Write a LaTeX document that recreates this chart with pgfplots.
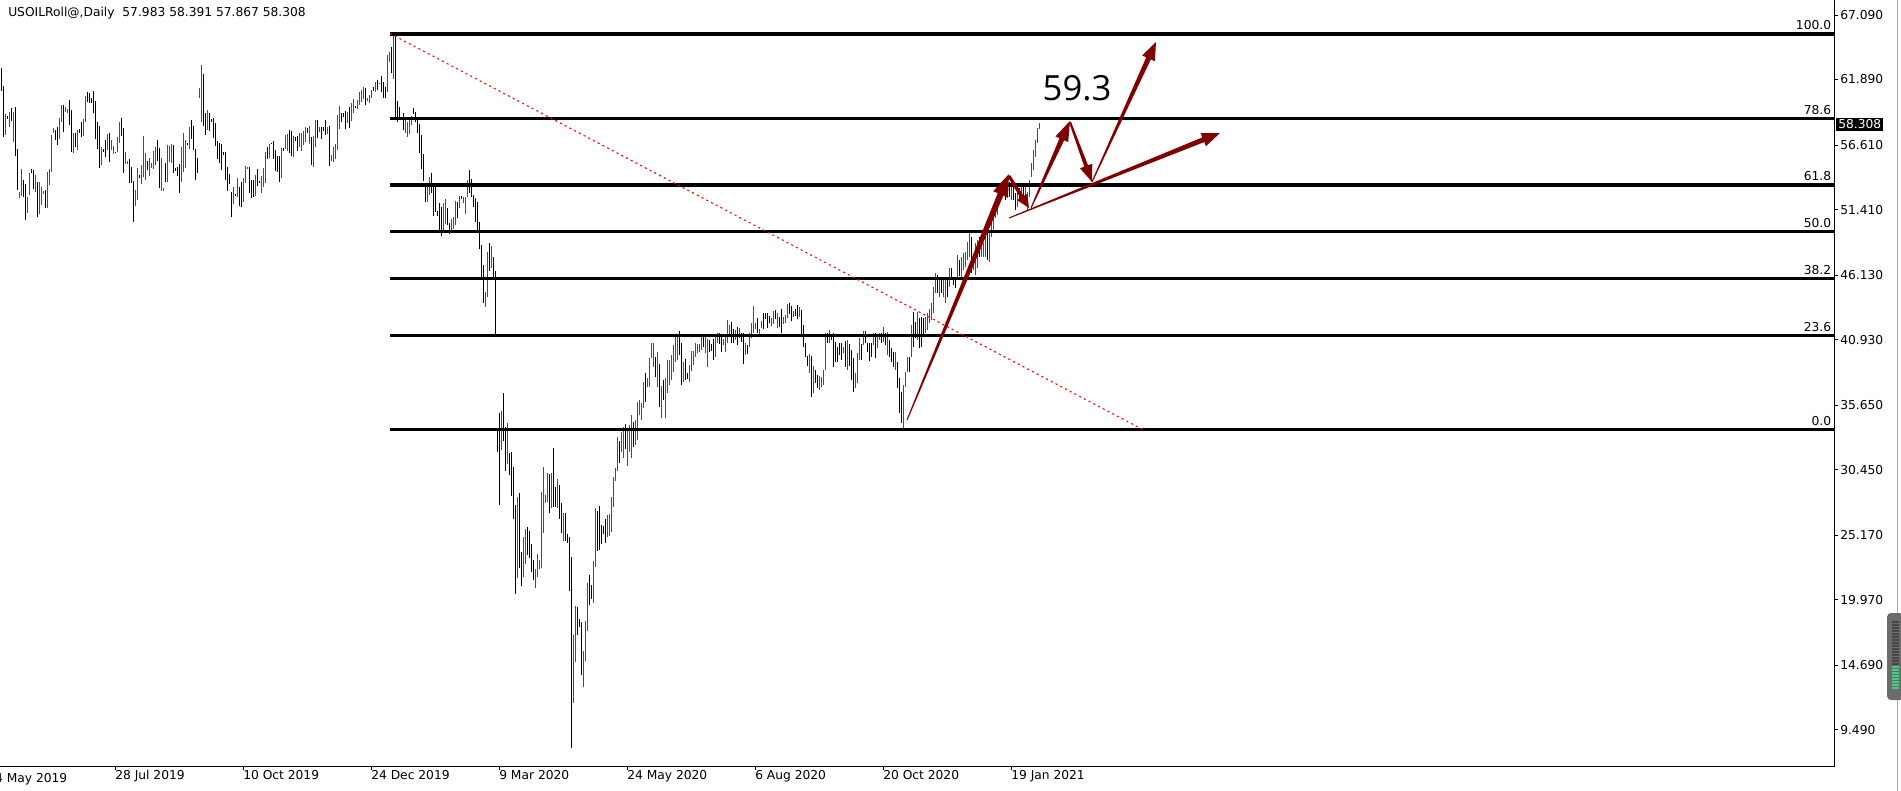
\documentclass[border=0pt]{standalone}
\usepackage{pgfplots}
\pgfplotsset{compat=1.18}
\usepackage{pgfplotstable}
\usepackage{fontspec}
\setmainfont{DejaVu Sans}
\newfontfamily\opensans{Open Sans}
\usetikzlibrary{calc}
\definecolor{arrowred}{HTML}{800000}
\definecolor{upred}{HTML}{FF0000}
\newcommand{\mtfont}{\fontsize{9.2pt}{11pt}\selectfont}

% bars: x = position on the time axis, l = low, h = high
\pgfplotstableread{
x l h
5.3 57.42 59.11
9.3 58.06 59.27
13.3 56.85 59.27
19.3 52.34 52.82
21.3 52.50 54.68
27.3 51.13 52.42
29.3 52.58 54.36
35.3 52.82 54.20
39.3 51.05 53.63
41.3 51.78 53.23
43.3 52.66 52.91
47.3 51.54 54.44
49.3 53.39 54.68
51.3 54.44 57.42
53.3 57.58 57.98
59.3 57.10 58.79
61.3 58.47 59.84
65.3 59.27 59.68
67.3 59.19 59.51
73.3 55.97 57.58
77.3 56.21 57.82
83.3 57.34 58.71
85.3 58.47 60.56
101.3 55.00 56.45
107.3 56.21 57.50
111.3 56.21 57.02
113.3 55.89 56.53
117.3 56.05 57.26
119.3 56.77 58.47
125.3 55.08 56.05
127.3 55.08 55.32
135.3 51.70 52.99
137.3 52.18 54.76
141.3 53.47 55.00
143.3 54.03 57.34
145.3 53.79 55.97
149.3 54.11 55.57
151.3 54.76 55.16
153.3 54.68 56.13
155.3 55.00 56.45
161.3 52.91 55.57
163.3 52.91 53.15
167.3 53.63 56.61
169.3 55.24 56.53
171.3 55.16 56.69
181.3 53.63 56.45
183.3 54.44 57.58
185.3 54.76 57.02
189.3 56.29 58.06
199.3 60.40 61.21
201.3 58.47 63.06
207.3 57.82 59.43
233.3 51.86 53.23
237.3 52.42 53.95
243.3 52.02 53.95
245.3 53.55 54.92
247.3 54.68 54.84
255.3 52.50 54.20
261.3 52.74 54.11
263.3 53.23 54.76
265.3 53.55 56.05
269.3 55.57 56.69
281.3 53.95 56.37
285.3 56.29 57.42
287.3 56.13 57.50
293.3 55.65 57.34
299.3 56.45 57.58
301.3 56.13 57.58
303.3 56.61 57.74
305.3 56.85 58.06
309.3 56.69 58.14
313.3 54.84 57.34
315.3 56.45 58.63
319.3 57.66 58.06
327.3 57.50 58.06
331.3 55.32 55.81
333.3 55.24 56.45
335.3 55.48 56.69
337.3 56.21 59.03
339.3 57.90 59.76
347.3 58.39 59.27
351.3 58.55 60.00
353.3 59.19 60.32
357.3 59.51 60.24
359.3 59.84 60.88
361.3 60.08 61.05
363.3 60.32 61.29
367.3 60.16 60.40
369.3 60.00 60.64
371.3 60.40 61.05
375.3 60.88 61.69
379.3 61.53 61.61
387.3 60.88 63.87
389.3 63.30 64.11
393.3 61.93 65.64
401.3 58.63 58.87
405.3 57.58 58.63
407.3 57.26 58.47
409.3 57.50 58.87
411.3 58.23 58.95
427.3 52.02 53.55
429.3 52.58 54.03
443.3 49.60 51.94
445.3 50.25 52.26
451.3 49.52 50.65
453.3 49.84 50.81
455.3 50.17 52.10
459.3 51.54 52.50
463.3 51.94 52.42
465.3 51.05 52.42
467.3 52.42 53.79
485.3 43.56 44.76
487.3 44.36 47.99
491.3 46.70 48.47
501.3 32.03 35.17
507.3 30.90 34.21
517.3 21.71 28.24
523.3 21.79 25.02
525.3 22.84 25.66
535.3 20.91 22.44
537.3 21.79 23.65
539.3 22.44 23.16
541.3 22.52 28.64
543.3 25.34 30.66
545.3 27.76 28.40
547.3 27.84 30.18
551.3 27.36 30.18
557.3 27.36 29.69
563.3 24.70 26.95
573.3 11.64 17.12
575.3 14.94 19.46
583.3 12.93 15.83
585.3 15.02 18.25
587.3 17.44 21.31
593.3 19.70 23.08
595.3 22.60 27.36
607.3 25.02 26.79
609.3 25.10 26.87
611.3 25.42 28.24
613.3 27.44 29.85
615.3 29.53 30.58
617.3 30.34 33.08
621.3 31.87 33.50
623.3 31.38 33.91
627.3 30.74 33.64
629.3 31.87 34.05
631.3 31.38 34.85
635.3 32.43 34.45
637.3 32.84 35.92
639.3 34.85 36.06
641.3 34.45 35.79
643.3 35.42 37.53
647.3 37.13 37.81
649.3 37.13 39.42
651.3 39.42 40.63
653.3 38.74 40.63
657.3 37.13 39.95
661.3 34.58 37.19
665.3 34.58 37.81
667.3 36.60 39.28
669.3 37.27 39.28
671.3 37.67 39.69
673.3 38.34 40.49
675.3 39.15 41.30
677.3 39.28 41.22
683.3 37.53 39.15
689.3 37.53 38.88
691.3 38.42 40.03
693.3 38.88 40.03
695.3 39.55 40.68
697.3 39.82 40.57
699.3 39.95 40.57
701.3 40.09 41.16
705.3 39.82 41.11
707.3 38.70 40.95
715.3 39.55 41.16
717.3 40.63 41.48
723.3 40.49 40.95
725.3 39.95 41.30
727.3 40.63 42.51
729.3 41.16 42.11
735.3 40.90 41.70
739.3 41.03 41.89
745.3 39.69 40.68
749.3 40.31 41.44
751.3 41.03 42.24
753.3 41.44 43.64
755.3 41.76 42.29
759.3 41.30 41.76
761.3 41.84 42.45
771.3 42.02 42.64
773.3 42.19 43.26
777.3 41.84 43.05
783.3 42.19 42.77
785.3 42.29 42.91
787.3 42.64 43.80
793.3 42.77 43.26
799.3 42.77 43.58
809.3 38.21 39.77
813.3 36.60 38.80
819.3 36.87 38.00
821.3 37.13 37.89
823.3 37.27 38.48
825.3 38.48 41.44
829.3 40.63 41.70
843.3 39.82 40.36
847.3 38.48 40.90
855.3 37.00 38.21
857.3 37.41 39.87
859.3 39.28 41.03
863.3 40.49 41.65
873.3 40.49 41.48
877.3 40.23 41.30
879.3 40.90 41.44
883.3 40.76 41.97
887.3 39.69 41.57
895.3 38.48 39.95
903.3 33.71 37.27
905.3 37.11 38.32
907.3 38.28 39.55
911.3 39.53 42.10
917.3 40.90 43.15
925.3 41.46 42.75
927.3 41.70 43.07
929.3 42.27 43.39
931.3 42.51 43.88
933.3 43.07 45.17
935.3 44.68 46.30
939.3 44.36 45.89
943.3 44.36 45.89
945.3 43.88 45.73
949.3 45.17 46.70
957.3 45.73 47.75
961.3 45.97 47.59
963.3 46.54 47.91
965.3 46.78 47.99
967.3 47.34 48.79
969.3 47.59 49.52
973.3 46.54 47.59
975.3 46.14 48.71
977.3 46.70 48.96
981.3 47.59 48.39
983.3 47.59 48.71
985.3 47.59 49.36
989.3 47.18 49.76
991.3 49.20 50.57
993.3 49.76 50.97
995.3 50.73 51.62
997.3 50.97 52.18
999.3 52.18 53.15
1003.3 52.99 53.79
1007.3 52.34 53.95
1011.3 52.18 53.55
1017.3 51.62 53.23
1021.3 52.42 53.23
1025.3 51.94 53.23
1027.3 51.37 52.82
1029.3 52.42 53.79
1031.3 54.03 55.16
1033.3 54.60 56.21
1035.3 55.65 57.02
1037.3 56.77 57.98
1039.3 57.87 58.39
}\up

\pgfplotstableread{
x l h
1.3 60.97 62.82
3.3 57.26 61.37
7.3 58.71 58.95
11.3 58.55 59.60
15.3 55.73 59.68
17.3 52.99 56.29
23.3 52.42 53.79
25.3 50.57 53.47
31.3 54.36 54.68
33.3 53.07 54.60
37.3 50.81 53.63
45.3 51.54 52.99
55.3 57.02 57.82
57.3 56.61 58.06
63.3 57.66 59.84
69.3 58.23 60.24
71.3 56.05 59.43
75.3 56.45 57.58
79.3 57.58 57.90
81.3 57.26 58.47
87.3 60.08 60.88
89.3 60.00 60.80
91.3 60.00 60.40
93.3 59.19 60.97
95.3 57.10 60.16
97.3 56.29 58.47
99.3 54.76 58.14
103.3 56.05 56.29
105.3 55.65 57.02
109.3 55.24 57.58
115.3 55.97 56.05
121.3 57.34 58.79
123.3 54.36 57.98
129.3 53.55 55.48
131.3 53.55 54.84
133.3 50.41 53.71
139.3 53.95 54.20
147.3 54.60 55.32
157.3 55.32 57.02
159.3 53.15 56.37
165.3 53.63 55.16
173.3 54.36 56.61
175.3 54.52 54.76
177.3 54.11 54.84
179.3 52.74 55.08
187.3 56.61 56.77
191.3 57.10 58.63
193.3 56.21 58.14
195.3 53.79 56.29
197.3 54.36 55.57
203.3 58.14 62.34
205.3 57.42 59.19
209.3 57.74 59.19
211.3 58.47 58.71
213.3 57.18 58.79
215.3 56.53 58.39
217.3 55.48 56.94
219.3 55.16 56.77
221.3 54.60 56.69
223.3 55.81 56.05
225.3 53.79 56.05
227.3 52.91 54.84
229.3 53.47 54.28
231.3 50.81 52.82
235.3 52.50 52.66
239.3 51.70 53.23
241.3 51.62 53.63
249.3 52.74 54.84
251.3 52.34 53.79
253.3 52.42 53.79
257.3 53.31 54.68
259.3 53.55 53.71
267.3 55.48 56.45
271.3 56.69 56.77
273.3 55.48 56.94
275.3 54.52 56.21
277.3 54.44 55.73
279.3 53.63 55.73
283.3 56.13 56.37
289.3 55.97 57.82
291.3 55.73 57.74
295.3 56.94 57.26
297.3 56.13 57.34
307.3 57.58 57.98
311.3 55.00 57.26
317.3 57.18 58.63
321.3 57.10 58.06
323.3 57.74 58.06
325.3 57.42 58.63
329.3 54.92 58.14
341.3 58.47 59.19
343.3 58.87 59.19
345.3 57.90 59.35
349.3 57.98 59.68
355.3 59.60 59.76
365.3 59.84 61.21
373.3 60.97 61.29
377.3 61.05 61.85
381.3 60.88 62.17
383.3 60.40 61.69
385.3 60.40 61.29
391.3 62.42 64.51
395.3 58.87 65.64
397.3 58.47 60.16
399.3 58.63 59.68
403.3 57.82 59.19
413.3 59.11 59.60
415.3 58.47 59.27
417.3 57.58 58.63
419.3 55.97 58.31
421.3 54.68 57.42
423.3 53.71 55.89
425.3 52.02 53.23
431.3 52.74 54.36
433.3 50.89 53.23
435.3 51.21 53.23
437.3 50.89 51.29
439.3 49.60 51.94
441.3 49.28 51.62
447.3 50.17 51.54
449.3 49.44 50.33
457.3 50.73 52.02
461.3 52.26 52.50
469.3 52.74 54.60
471.3 52.42 53.87
473.3 51.62 52.58
475.3 50.41 52.34
477.3 49.60 52.02
479.3 48.23 50.41
481.3 45.97 48.55
483.3 43.88 46.94
489.3 46.46 48.71
493.3 45.73 47.59
495.3 41.30 46.46
497.3 31.87 33.64
499.3 27.60 35.01
503.3 32.76 36.62
505.3 30.34 33.88
509.3 30.01 31.79
511.3 28.32 31.87
513.3 26.47 30.66
515.3 20.42 27.60
519.3 22.52 28.56
521.3 21.07 23.81
527.3 23.57 25.82
529.3 23.33 25.50
531.3 22.20 24.45
533.3 21.55 23.16
549.3 26.95 30.10
553.3 27.44 32.19
555.3 27.44 29.05
559.3 26.47 29.21
561.3 25.34 27.76
565.3 24.70 26.95
567.3 24.53 25.26
569.3 20.67 25.02
571.3 8.01 23.41
577.3 17.12 19.38
579.3 17.76 18.41
581.3 13.90 18.17
589.3 19.54 21.96
591.3 20.02 21.15
597.3 23.89 27.11
599.3 23.97 27.52
601.3 24.45 25.99
603.3 25.26 25.90
605.3 24.53 26.47
619.3 30.98 32.75
625.3 32.11 34.13
633.3 32.27 34.31
645.3 35.92 38.26
655.3 37.94 39.55
659.3 35.52 38.96
663.3 36.06 37.67
679.3 39.69 41.65
681.3 37.27 40.63
685.3 37.67 39.34
687.3 37.73 38.21
703.3 40.36 41.16
709.3 39.95 40.90
711.3 40.03 40.57
713.3 39.28 40.95
719.3 40.57 41.44
721.3 39.95 41.16
731.3 40.63 42.37
733.3 40.63 41.76
737.3 40.49 41.97
741.3 40.76 41.48
743.3 38.96 41.44
747.3 39.77 40.49
757.3 41.48 42.64
763.3 41.76 43.05
765.3 42.56 43.10
767.3 41.84 43.05
769.3 42.29 42.83
775.3 42.56 43.31
779.3 41.92 42.77
781.3 41.44 43.37
789.3 42.99 43.90
791.3 42.45 43.64
795.3 42.83 43.37
797.3 42.56 43.72
801.3 41.16 43.31
803.3 40.36 42.11
805.3 39.55 40.63
807.3 38.80 39.61
811.3 36.33 39.61
815.3 37.41 38.48
817.3 37.00 38.08
827.3 40.63 41.48
831.3 40.90 41.30
833.3 38.74 41.44
835.3 39.15 40.76
837.3 39.15 40.36
839.3 39.69 40.63
841.3 39.28 40.63
845.3 38.74 40.84
849.3 38.80 40.57
851.3 37.67 40.09
853.3 36.73 39.42
861.3 39.28 40.57
865.3 40.63 41.65
867.3 39.95 40.68
869.3 39.23 40.63
871.3 39.55 40.68
875.3 39.42 41.48
881.3 40.63 41.48
885.3 40.49 41.48
889.3 39.55 40.90
891.3 39.12 40.23
893.3 38.74 39.95
897.3 37.00 39.15
899.3 34.99 37.81
901.3 34.18 36.73
909.3 38.34 39.55
913.3 40.33 43.15
915.3 41.06 42.35
919.3 40.25 42.67
921.3 40.33 42.75
923.3 41.14 42.67
937.3 44.68 46.14
941.3 44.68 45.97
947.3 44.36 45.73
951.3 45.73 46.70
953.3 45.33 45.97
955.3 45.09 45.89
959.3 46.05 47.34
971.3 46.30 49.20
979.3 47.59 49.20
987.3 47.34 49.52
1001.3 52.74 53.63
1005.3 52.18 53.55
1009.3 52.42 53.63
1013.3 52.18 53.39
1015.3 51.37 52.74
1019.3 52.18 53.15
1023.3 52.18 53.39
}\dn

% tapered arrow: x1 y1 x2 y2 (px), tail half width, shaft half width, head length, head half width
\newcommand{\fatarrow}[8]{%
  \coordinate (A) at (#1,#2);
  \coordinate (B) at (#3,#4);
  \coordinate (H) at ($(B)!#7!(A)$);
  \fill[arrowred] ($(A)!#5!90:(B)$) -- ($(H)!#6!90:(B)$) -- ($(H)!#8!90:(B)$)
    -- (B) -- ($(H)!#8!-90:(B)$) -- ($(H)!#6!-90:(B)$) -- ($(A)!#5!-90:(B)$) -- cycle;
}
\newcommand{\fib}[2]{%
  \draw[black, line width=2.3pt] (axis cs:390,#1) -- (axis cs:1834,#1);
  \node[anchor=base east, inner sep=0.5pt, fill=white, font=\mtfont, yshift=3pt] at (axis cs:1832,#1) {#2};
}

\begin{document}
\begin{tikzpicture}
\begin{axis}[
    at={(0pt,-574.5pt)}, anchor=south west,
    scale only axis, width=1375.5pt, height=574.5pt,
    xmin=0, xmax=1834, ymin=6.56, ymax=68.30,
    axis line style={draw=none},
    tick align=outside, major tick length=3pt,
    tick style={black, line width=0.75pt},
    xtick pos=bottom, ytick pos=right, yticklabel pos=right,
    xtick={115,243,371,499,627,755,883,1011},
    xticklabels={28 Jul 2019,10 Oct 2019,24 Dec 2019,9 Mar 2020,24 May 2020,6 Aug 2020,20 Oct 2020,19 Jan 2021},
    xticklabel style={anchor=north west, inner sep=0pt, font=\mtfont},
    ytick={9.49,14.69,19.97,25.17,30.45,35.65,40.93,46.13,51.41,56.61,61.89,67.09},
    yticklabels={9.490,14.690,19.970,25.170,30.450,35.650,40.930,46.130,51.410,56.610,61.890,67.090},
    yticklabel style={anchor=west, inner sep=0pt, xshift=1.5pt, font=\mtfont},
    clip=true,
]
\addplot[draw=none, mark=none, forget plot,
    error bars/.cd, y dir=plus, y explicit, error mark=none,
    error bar style={draw=upred, solid, line width=1pt}]
    table[x=x, y=l, y error plus expr=\thisrow{h}-\thisrow{l}] {\up};
\addplot[draw=none, mark=none, forget plot,
    error bars/.cd, y dir=plus, y explicit, error mark=none,
    error bar style={draw=black, solid, line width=1pt}]
    table[x=x, y=l, y error plus expr=\thisrow{h}-\thisrow{l}] {\dn};

% fibonacci retracement levels (high 65.56, low 33.71)
\fib{65.56}{100.0}
\fib{58.74}{78.6}
\fib{53.39}{61.8}
\fib{49.64}{50.0}
\fib{45.88}{38.2}
\fib{41.23}{23.6}
\fib{33.71}{0.0}
\draw[upred, line width=0.8pt, dash pattern=on 1.6pt off 2.4pt] (axis cs:390,65.60) -- (axis cs:1142,33.71);
\end{axis}

\begin{scope}[x=0.75pt, y=-0.75pt]
% frame of the chart window (bottom and right only)
\draw[black, line width=0.75pt] (0,766) -- (1834,766) -- (1834,0);
\draw[gray!70, line width=0.75pt] (1897,0) -- (1897,791);
% title
\node[anchor=base west, inner sep=0pt, font=\mtfont] at (8,16.5) {USOILRoll@,Daily\ \ 57.983 58.391 57.867 58.308};
% cut-off first date label
\node[anchor=north west, inner sep=0pt, font=\mtfont] at (-13,773) {14 May 2019};
% current price tag
\node[anchor=west, fill=black, text=white, inner xsep=1.5pt, inner ysep=1.5pt, font=\mtfont] at (1836,124.5) {58.308};
% scroll widget at right edge
\fill[gray!85!black, rounded corners=3pt] (1887,613) rectangle (1910,700);
\foreach \yy in {622,625,...,664} { \draw[gray!55!black, line width=0.9pt] (1892,\yy) -- (1899,\yy); }
\foreach \yy in {667,670,...,688} { \draw[teal!60!green!70!white, line width=0.9pt] (1892,\yy) -- (1899,\yy); }
% forecast arrows
\fatarrow{907}{420}{1009}{174}{0.4pt}{2.3pt}{16.5pt}{6pt}
\fatarrow{1009}{176}{1029}{208}{1.1pt}{1.5pt}{9.75pt}{4.5pt}
\fatarrow{1031}{208}{1070}{121}{0.4pt}{1.9pt}{15pt}{5.25pt}
\fatarrow{1070}{122}{1092}{182}{0.75pt}{1.5pt}{12.75pt}{4.9pt}
\fatarrow{1092}{182}{1156}{42}{0.4pt}{1.9pt}{13.5pt}{5.25pt}
\fatarrow{1009}{218}{1220}{133}{0.4pt}{1.9pt}{13.5pt}{5.25pt}
% target label
\node[font=\opensans\fontsize{26pt}{30pt}\selectfont, inner sep=0pt] at (1077,88) {59.3};
\pgfresetboundingbox
\path[use as bounding box] (0,0) rectangle (1901,791);
\end{scope}
\end{tikzpicture}
\end{document}
